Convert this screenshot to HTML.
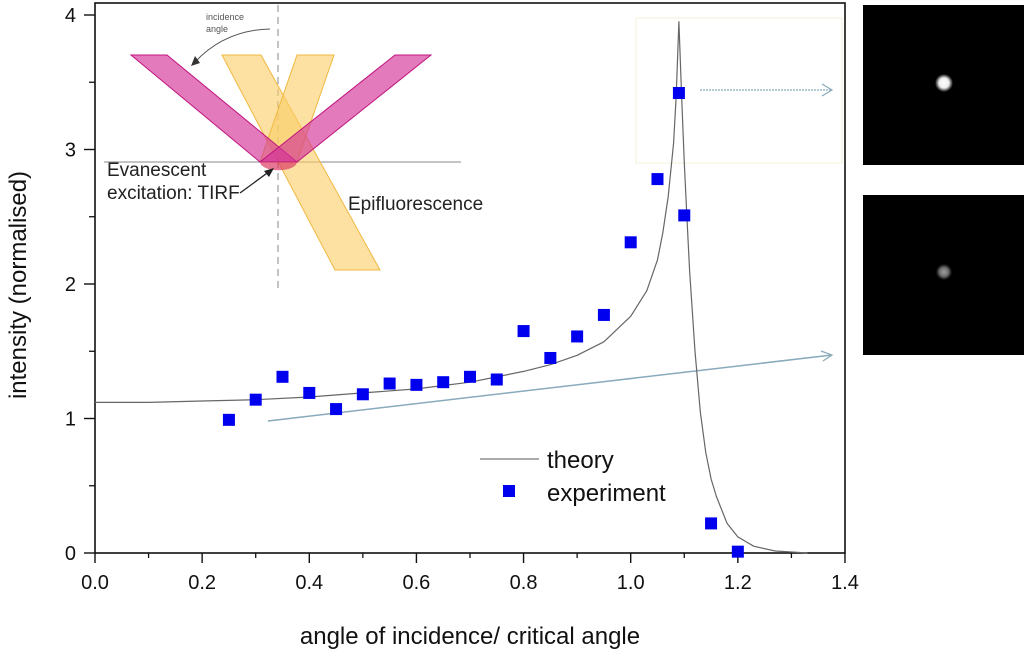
<!DOCTYPE html>
<html><head><meta charset="utf-8"><style>
body{margin:0;background:#fff;}
svg{display:block;font-family:"Liberation Sans",Arial,sans-serif;}
</style></head><body>
<svg id="chart" width="1024" height="654" viewBox="0 0 1024 654">
<defs>
<radialGradient id="spot1"><stop offset="0" stop-color="#fff"/><stop offset="0.55" stop-color="#eee"/><stop offset="1" stop-color="#000"/></radialGradient>
<radialGradient id="spot2"><stop offset="0" stop-color="#999"/><stop offset="0.5" stop-color="#777"/><stop offset="1" stop-color="#000"/></radialGradient>
</defs>
<rect x="636" y="18" width="206" height="145" fill="none" stroke="#f6f0d8" stroke-width="1"/>
<g id="inset">
<line x1="104" y1="162" x2="461" y2="162" stroke="#888" stroke-width="1"/>
<line x1="278" y1="5" x2="278" y2="288" stroke="#888" stroke-width="1" stroke-dasharray="7,5"/>
<polygon points="222,55 261,55 380,270 335,270" fill="rgba(250,205,100,0.6)" stroke="#f0b840" stroke-width="1"/>
<polygon points="297,55 334,55 297,162 260,162" fill="rgba(250,205,100,0.6)" stroke="#f0b840" stroke-width="1"/>
<polygon points="131,55 167,55 297,162 260,162" fill="rgba(210,50,150,0.65)" stroke="#c0157e" stroke-width="1"/>
<polygon points="431,55 395,55 260,162 297,162" fill="rgba(210,50,150,0.65)" stroke="#c0157e" stroke-width="1"/>
<path d="M260,162 A18,8 0 0 0 297,162 Z" fill="rgba(220,60,100,0.7)"/>
<path d="M270,29 Q225,30 195,62" fill="none" stroke="#555" stroke-width="1"/>
<polygon points="191,66 195,56 200,63" fill="#333"/>
<line x1="240" y1="193" x2="270" y2="171" stroke="#222" stroke-width="1.3"/>
<polygon points="274,168 264,171 269,177" fill="#222"/>
<text x="206" y="20" font-size="9" fill="#555">incidence</text>
<text x="206" y="32" font-size="9" fill="#555">angle</text>
<text x="107" y="176" font-size="19" fill="#222">Evanescent</text>
<text x="107" y="199" font-size="19" fill="#222">excitation: TIRF</text>
<text x="348" y="210" font-size="19" fill="#222">Epifluorescence</text>
</g>
<line x1="700" y1="90" x2="832" y2="90" stroke="#8ab" stroke-width="1.2" stroke-dasharray="2,1"/>
<polyline points="822,84 832,90 822,96" fill="none" stroke="#8ab" stroke-width="1.2"/>
<line x1="268" y1="421" x2="832" y2="355" stroke="#8ab" stroke-width="1.5"/>
<polyline points="821,351 832,355 823,361" fill="none" stroke="#8ab" stroke-width="1.2"/>
<rect x="863" y="5" width="161" height="160" fill="#000"/>
<circle cx="944" cy="83" r="9" fill="url(#spot1)"/>
<rect x="863" y="195" width="161" height="160" fill="#000"/>
<circle cx="944" cy="272" r="8" fill="url(#spot2)"/>
<g id="axes"></g>
<g id="marks"></g>
<g>
<line x1="480" y1="459" x2="539" y2="459" stroke="#777" stroke-width="1.2"/>
<text x="547" y="468" font-size="24" fill="#111">theory</text>
<rect x="503" y="485" width="12" height="12" fill="#0000ee"/>
<text x="547" y="501" font-size="24" fill="#111">experiment</text>
</g>
<text x="470" y="644" font-size="24" text-anchor="middle" fill="#111">angle of incidence/ critical angle</text>
<text transform="translate(26,285) rotate(-90)" font-size="24" text-anchor="middle" fill="#111">intensity (normalised)</text>
</svg>
<script>
const theoryX=[0,0.1,0.2,0.3,0.4,0.5,0.6,0.7,0.8,0.85,0.9,0.95,1.0,1.03,1.05,1.06,1.07,1.08,1.085,1.09,1.095,1.1,1.105,1.11,1.12,1.13,1.14,1.15,1.16,1.18,1.2,1.23,1.27,1.33];
const theoryY=[1.12,1.12,1.13,1.14,1.16,1.19,1.22,1.27,1.35,1.40,1.47,1.57,1.76,1.95,2.18,2.38,2.65,3.05,3.4,3.95,3.4,2.9,2.5,2.1,1.5,1.05,0.75,0.55,0.42,0.22,0.12,0.05,0.015,0];
const expX=[0.25,0.3,0.35,0.4,0.45,0.5,0.55,0.6,0.65,0.7,0.75,0.8,0.85,0.9,0.95,1.0,1.05,1.09,1.1,1.15,1.2];
const expY=[0.99,1.14,1.31,1.19,1.07,1.18,1.26,1.25,1.27,1.31,1.29,1.65,1.45,1.61,1.77,2.31,2.78,3.42,2.51,0.22,0.01];
const xTicks=[0,0.2,0.4,0.6,0.8,1.0,1.2,1.4];
const xTickLabels=["0.0","0.2","0.4","0.6","0.8","1.0","1.2","1.4"];
const yTicks=[0,1,2,3,4];
const yTickLabels=["0","1","2","3","4"];
const NS="http://www.w3.org/2000/svg";
const sx=v=>95+v*535.7, sy=v=>553-v*134.5;
function mk(tag,attrs,parent){const e=document.createElementNS(NS,tag);for(const k in attrs)e.setAttribute(k,attrs[k]);parent.appendChild(e);return e;}
const ax=document.getElementById('axes'), mg=document.getElementById('marks');
let f=mk('rect',{x:95,y:3,width:750,height:550,fill:'none',stroke:'#111','stroke-width':1.6},ax);


for(let i=0;i<xTicks.length;i++){
  const x=sx(xTicks[i]);
  mk('line',{x1:x,y1:553,x2:x,y2:563,stroke:'#111','stroke-width':1.4},ax);
  if(i<xTicks.length-1){const xm=sx(xTicks[i]+0.1);mk('line',{x1:xm,y1:553,x2:xm,y2:558,stroke:'#111','stroke-width':1.3},ax);}
  const t=mk('text',{x:x,y:589,'font-size':20,'text-anchor':'middle',fill:'#111'},ax);
  t.textContent=xTickLabels[i];
  
  
}
for(let i=0;i<yTicks.length;i++){
  const y=sy(yTicks[i]);
  mk('line',{x1:84,y1:y,x2:95,y2:y,stroke:'#111','stroke-width':1.4},ax);
  if(i<yTicks.length-1){const ym=sy(yTicks[i]+0.5);mk('line',{x1:89,y1:ym,x2:95,y2:ym,stroke:'#111','stroke-width':1.3},ax);}
  const t=mk('text',{x:76,y:y+7,'font-size':20,'text-anchor':'end',fill:'#111'},ax);
  t.textContent=yTickLabels[i];
  
  
}
let d='';
for(let i=0;i<theoryX.length;i++)d+=(i?'L':'M')+sx(theoryX[i]).toFixed(1)+','+sy(theoryY[i]).toFixed(1);
const p=mk('path',{d:d,fill:'none',stroke:'#666','stroke-width':1.2,'stroke-linejoin':'round'},mg);


for(let i=0;i<expX.length;i++){
  const r=mk('rect',{x:sx(expX[i])-6,y:sy(expY[i])-6,width:12,height:12,fill:'#0000ee'},mg);
  
  
}
</script>
</body></html>
